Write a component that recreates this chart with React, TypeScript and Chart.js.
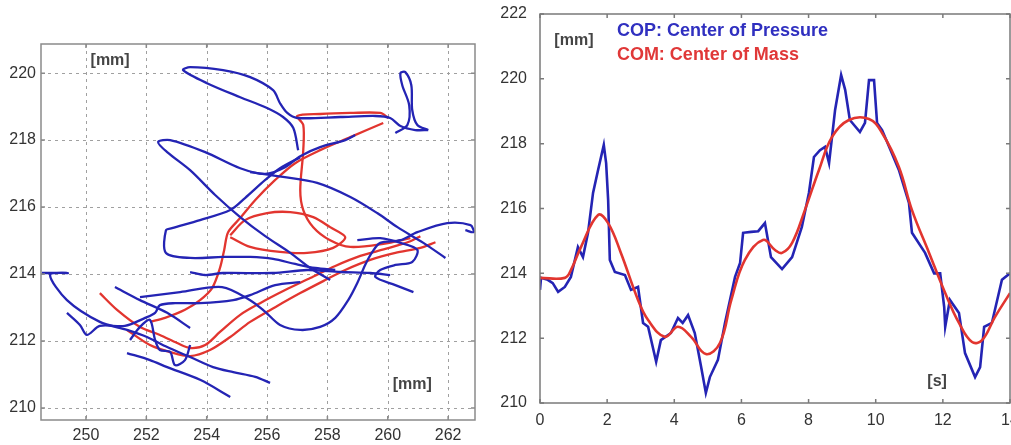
import React, { useEffect, useRef } from "react";
import { Chart, registerables } from "chart.js";

Chart.register(...registerables);

// ---------------- Left panel: COP / COM trajectory in the x-y plane [mm] ----------------
const xyXTicks = [250, 252, 254, 256, 258, 260, 262];
const xyYTicks = [210, 212, 214, 216, 218, 220];
const xyXMin = 248.51;
const xyXMax = 262.89;
const xyYMin = 209.64;
const xyYMax = 220.87;

type P = [number, number];

// COP strokes (blue)
const copTopLoop: P[] = [[257.03,217.7],[256.87,218.36],[256.53,218.69],[256.0,218.96],[255.11,219.28],[254.01,219.7],[253.22,220.09],[253.45,220.18],[254.54,220.09],[255.44,219.88],[256.2,219.49],[256.43,219.1],[256.67,218.81],[257.0,218.66],[258.43,218.69],[259.59,218.72],[260.08,218.66],[260.42,218.42],[260.91,218.3],[261.34,218.3]];
const copSmallLoop: P[] = [[260.25,218.21],[260.65,218.45],[260.71,219.04],[260.48,219.64],[260.42,220.0],[260.58,220.03],[260.78,219.64],[260.81,218.9],[260.98,218.45],[261.34,218.3]];
const copSecondLoop: P[] = [[258.09,213.82],[257.43,214.18],[256.77,214.63],[255.94,215.13],[255.11,215.7],[254.28,216.36],[253.45,217.1],[252.69,217.64],[252.39,217.94],[252.79,218.0],[253.95,217.64],[255.11,217.16],[255.94,216.99],[256.6,217.19],[257.1,217.52],[257.76,217.79],[258.59,218.0],[258.92,218.15]];
const copBracket: P[] = [[257.1,217.49],[256.43,217.16],[255.94,216.81],[255.27,216.27],[254.78,215.91],[253.78,215.61],[252.85,215.37],[252.65,215.31],[252.65,214.63],[253.45,214.48],[254.54,214.51],[255.44,214.51],[256.2,214.45],[256.93,214.3],[257.6,214.18],[258.26,214.12]];
const copDiagonal: P[] = [[255.44,217.04],[256.53,216.9],[257.66,216.72],[258.76,216.3],[259.65,215.82],[260.32,215.4],[261.18,214.93],[261.91,214.48]];
const copMidLine: P[] = [[253.45,214.06],[253.95,213.97],[254.54,214.03],[256.2,214.03],[257.33,214.12],[258.43,214.06],[259.42,214.03],[260.08,213.97]];
const copLowCurve: P[] = [[251.79,213.31],[253.12,213.46],[254.51,213.61],[255.44,213.22],[255.94,212.87],[256.43,212.48],[257.1,212.33],[257.76,212.42],[258.26,212.69],[258.69,213.22],[258.99,213.73],[259.25,214.27],[259.49,214.66],[259.75,214.93],[260.42,215.01],[260.98,215.25],[261.97,215.52],[262.74,215.46],[262.84,215.25],[262.57,215.31]];
const copRightLoop: P[] = [[258.99,215.01],[259.75,215.07],[260.42,214.93],[260.98,214.72],[260.81,214.36],[260.25,214.27],[259.75,214.12],[259.59,213.91],[260.25,213.67],[260.85,213.46]];
const copLeftLong: P[] = [[248.54,214.03],[249.4,214.03],[248.81,213.97],[249.37,213.22],[250.46,212.57],[251.36,212.33],[252.02,212.12],[252.69,211.82],[253.45,211.52],[254.21,211.22],[254.88,211.07],[255.61,210.93],[256.1,210.75]];
const copZigzag: P[] = [[249.37,212.84],[249.8,212.48],[250.03,212.18],[250.46,212.45],[251.29,212.45],[251.96,212.69],[252.29,212.84],[252.45,213.07],[252.95,213.13],[253.78,213.13],[254.88,213.22],[255.44,213.37],[256.27,213.67],[257.1,213.76]];
const copShort: P[] = [[250.96,213.61],[251.79,213.22],[252.69,212.84],[253.45,212.39]];
const copBottom: P[] = [[251.36,211.64],[252.12,211.43],[252.69,211.22],[253.78,210.84],[254.78,210.33]];
const copCluster: P[] = [[251.46,212.03],[251.79,212.42],[252.12,212.63],[252.29,212.03],[252.45,211.73],[252.79,211.67],[252.95,211.28],[253.28,211.43],[253.45,211.88]];

// COM strokes (red)
const comLowerA: P[] = [[250.46,213.43],[251.03,212.93],[251.79,212.42],[252.45,212.18],[253.02,211.94],[253.45,211.79],[253.95,211.88],[254.44,212.27],[255.11,212.78],[255.77,213.13],[256.6,213.52],[257.43,213.88],[258.26,214.24],[259.09,214.54],[259.92,214.75],[260.75,214.98],[261.08,215.13]];
const comLowerB: P[] = [[251.36,212.33],[252.12,211.88],[252.79,211.67],[253.45,211.55],[254.11,211.73],[254.78,212.12],[255.44,212.57],[256.27,213.01],[257.1,213.43],[257.93,213.82],[258.59,214.12],[259.42,214.42],[260.25,214.63],[261.08,214.78],[261.58,214.95]];
const comTop: P[] = [[260.02,218.66],[259.75,218.81],[258.76,218.81],[257.76,218.78],[257.0,218.72],[257.2,218.45],[257.2,217.7],[257.1,216.51],[257.2,215.91],[257.53,215.4],[258.09,215.01],[258.76,214.81],[259.85,214.9],[260.75,215.07]];
const comDescent: P[] = [[259.85,218.51],[258.76,218.09],[257.76,217.7],[256.93,217.31],[256.27,216.81],[255.61,216.21],[255.11,215.67],[254.71,215.25],[254.58,214.72],[254.44,214.18],[254.18,213.58],[253.78,213.22],[253.28,212.93],[252.62,212.69],[252.12,212.57]];
const comLoop: P[] = [[254.78,215.16],[255.27,215.61],[256.0,215.82],[256.77,215.85],[257.53,215.7],[258.09,215.4],[258.59,215.1],[258.19,214.78],[257.33,214.63],[256.43,214.66],[255.44,214.81],[254.78,215.1]];

const copStrokes: P[][] = [copTopLoop, copSmallLoop, copSecondLoop, copBracket, copDiagonal, copMidLine, copLowCurve, copRightLoop, copLeftLong, copZigzag, copShort, copBottom, copCluster];
const comStrokes: P[][] = [comLowerA, comLowerB, comTop, comDescent, comLoop];

// ---------------- Right panel: time series [s] vs [mm] ----------------
const timeTicks = [0, 2, 4, 6, 8, 10, 12, 14];
const posTicks = [210, 212, 214, 216, 218, 220, 222];

const copT = [0,0.03,0.23,0.38,0.54,0.74,0.92,1.13,1.28,1.43,1.58,1.73,1.9,1.97,2.03,2.08,2.23,2.53,2.71,2.92,3.07,3.22,3.46,3.6,3.9,4.11,4.25,4.41,4.61,4.8,4.94,5.06,5.3,5.51,5.81,5.96,6.05,6.29,6.5,6.7,6.88,7.21,7.51,7.8,8.01,8.16,8.34,8.49,8.61,8.79,8.97,9.09,9.23,9.53,9.68,9.8,9.95,10.04,10.19,10.69,10.99,11.08,11.47,11.74,11.92,12.04,12.07,12.21,12.48,12.66,12.96,13.11,13.23,13.46,13.76,14.0];
const copY = [213.49,213.86,213.8,213.7,213.43,213.58,213.89,214.81,214.5,215.25,216.48,217.19,217.96,217.4,216.26,214.41,214.04,213.95,213.49,213.58,212.47,212.35,211.27,211.94,212.16,212.62,212.47,212.71,212.16,211.11,210.31,210.8,211.33,212.47,213.89,214.32,215.25,215.28,215.3,215.55,214.5,214.13,214.5,215.43,216.48,217.59,217.8,217.9,217.4,219.04,220.12,219.66,218.73,218.36,218.64,219.96,219.96,218.64,218.42,217.19,216.17,215.25,214.63,214.0,214.0,212.96,212.35,213.18,212.78,211.54,210.8,211.11,212.35,212.47,213.8,214.0];

const comT = [0,0.74,0.92,1.22,1.73,2.03,2.41,2.92,3.22,3.72,4.11,4.5,4.94,5.36,5.7,6.1,6.64,7.0,7.21,7.51,7.89,8.31,8.7,9.2,9.8,10.19,10.69,11.08,11.59,12.07,12.48,12.87,13.17,13.55,14.0];
const comY = [213.86,213.86,214.1,214.81,215.8,215.55,214.63,213.18,212.56,212.04,212.35,212.04,211.51,211.85,213.18,214.41,215.03,214.72,214.63,214.94,215.95,217.19,218.21,218.73,218.76,218.33,217.28,215.95,214.63,213.39,212.47,211.88,211.94,212.65,213.39];

// ---------------- styling ----------------
const BLUE = "#2424b4";
const RED = "#e2352f";
const FONT = "'Liberation Sans', Arial, sans-serif";

const framePlugin = {
  id: "frame",
  beforeDatasetsDraw(chart: any, _a: any, o: any) {
    if (!o.grid) return;
    const { ctx, chartArea: a, scales } = chart;
    const x = scales.x, y = scales.y;
    ctx.save();
    ctx.strokeStyle = o.gridColor;
    ctx.lineWidth = 1;
    ctx.setLineDash([3, 4]);
    ctx.beginPath();
    x.ticks.forEach((t: any) => {
      const p = Math.round(x.getPixelForValue(t.value)) + 0.5;
      ctx.moveTo(p, a.top);
      ctx.lineTo(p, a.bottom);
    });
    y.ticks.forEach((t: any) => {
      const p = Math.round(y.getPixelForValue(t.value)) + 0.5;
      ctx.moveTo(a.left, p);
      ctx.lineTo(a.right, p);
    });
    ctx.stroke();
    ctx.restore();
  },
  afterDraw(chart: any, _a: any, o: any) {
    const { ctx, chartArea: a, scales } = chart;
    const x = scales.x, y = scales.y;
    ctx.save();
    ctx.strokeStyle = o.color;
    ctx.lineWidth = o.width;
    ctx.setLineDash([]);
    ctx.strokeRect(a.left, a.top, a.right - a.left, a.bottom - a.top);
    const L = o.tickLen;
    ctx.lineWidth = 1.5;
    ctx.beginPath();
    x.ticks.forEach((t: any) => {
      const p = x.getPixelForValue(t.value);
      ctx.moveTo(p, a.bottom); ctx.lineTo(p, a.bottom - L);
      ctx.moveTo(p, a.top); ctx.lineTo(p, a.top + L);
    });
    y.ticks.forEach((t: any) => {
      const p = y.getPixelForValue(t.value);
      ctx.moveTo(a.left, p); ctx.lineTo(a.left + L, p);
      ctx.moveTo(a.right, p); ctx.lineTo(a.right - L, p);
    });
    ctx.stroke();
    (o.texts || []).forEach((t: any) => {
      ctx.font = t.font;
      ctx.fillStyle = t.color;
      ctx.textAlign = t.align || "center";
      ctx.textBaseline = "middle";
      ctx.fillText(t.text, x.getPixelForValue(t.x), y.getPixelForValue(t.y));
    });
    ctx.restore();
  },
};

function fixedAxis(size: number, horizontal: boolean) {
  return (s: any) => {
    if (horizontal) s.height = size; else s.width = size;
    s.paddingLeft = 0; s.paddingRight = 0; s.paddingTop = 0; s.paddingBottom = 0;
  };
}

function setTicks(values: number[]) {
  return (s: any) => { s.ticks = values.map((v) => ({ value: v })); };
}

const tickFont = { family: FONT, size: 16 };
const TICK_COLOR = "#333";

function leftConfig(): any {
  const datasets: any[] = [];
  copStrokes.forEach((st, i) => datasets.push({
    label: "COP " + i,
    data: st.map(([px, py]) => ({ x: px, y: py })),
    showLine: true, borderColor: BLUE, borderWidth: 2.3, pointRadius: 0, tension: 0.3, fill: false,
  }));
  comStrokes.forEach((st, i) => datasets.push({
    label: "COM " + i,
    data: st.map(([px, py]) => ({ x: px, y: py })),
    showLine: true, borderColor: RED, borderWidth: 2.3, pointRadius: 0, tension: 0.3, fill: false,
  }));
  return {
    type: "scatter",
    data: { datasets },
    plugins: [framePlugin],
    options: {
      responsive: false,
      animation: false,
      layout: { padding: { top: 44, right: 25, left: 0, bottom: 0 } },
      plugins: {
        legend: { display: false },
        tooltip: { enabled: false },
        frame: {
          grid: true, gridColor: "#a0a0a0", color: "#8a8a8a", width: 1.5, tickLen: 4,
          texts: [
            { text: "[mm]", x: 250.8, y: 220.36, color: "#444", font: `bold 16px ${FONT}` },
            { text: "[mm]", x: 260.81, y: 210.69, color: "#444", font: `bold 16px ${FONT}` },
          ],
        },
      },
      scales: {
        x: {
          type: "linear", min: xyXMin, max: xyXMax,
          afterBuildTicks: setTicks(xyXTicks), afterFit: fixedAxis(25, true),
          grid: { display: false, drawTicks: false }, border: { display: false },
          ticks: { font: tickFont, color: TICK_COLOR, padding: 6, maxRotation: 0 },
        },
        y: {
          type: "linear", min: xyYMin, max: xyYMax,
          afterBuildTicks: setTicks(xyYTicks), afterFit: fixedAxis(41, false),
          grid: { display: false, drawTicks: false }, border: { display: false },
          ticks: { font: tickFont, color: TICK_COLOR, padding: 5 },
        },
      },
    },
  };
}

function rightConfig(): any {
  return {
    type: "scatter",
    data: {
      datasets: [
        {
          label: "COM: Center of Mass",
          data: comT.map((t, i) => ({ x: t, y: comY[i] })),
          showLine: true, borderColor: RED, borderWidth: 2.6, pointRadius: 0, tension: 0.4, fill: false,
        },
        {
          label: "COP: Center of Pressure",
          data: copT.map((t, i) => ({ x: t, y: copY[i] })),
          showLine: true, borderColor: BLUE, borderWidth: 2.6, pointRadius: 0, tension: 0, fill: false,
        },
      ],
    },
    plugins: [framePlugin],
    options: {
      responsive: false,
      animation: false,
      layout: { padding: { top: 14, right: 1, left: 0, bottom: 0 } },
      plugins: {
        legend: { display: false },
        tooltip: { enabled: false },
        frame: {
          grid: false, color: "#7a7a7a", width: 1.5, tickLen: 4,
          texts: [
            { text: "[mm]", x: 1.01, y: 221.17, color: "#444", font: `bold 16px ${FONT}` },
            { text: "COP: Center of Pressure", x: 2.29, y: 221.48, color: "#3030c0", font: `bold 18px ${FONT}`, align: "left" },
            { text: "COM: Center of Mass", x: 2.29, y: 220.74, color: "#e03838", font: `bold 18px ${FONT}`, align: "left" },
            { text: "[s]", x: 11.83, y: 210.65, color: "#444", font: `bold 16px ${FONT}` },
          ],
        },
      },
      scales: {
        x: {
          type: "linear", min: 0, max: 14,
          afterBuildTicks: setTicks(timeTicks), afterFit: fixedAxis(42, true),
          grid: { display: false, drawTicks: false }, border: { display: false },
          ticks: { font: tickFont, color: TICK_COLOR, padding: 8, maxRotation: 0 },
        },
        y: {
          type: "linear", min: 210, max: 222,
          afterBuildTicks: setTicks(posTicks), afterFit: fixedAxis(40, false),
          grid: { display: false, drawTicks: false }, border: { display: false },
          ticks: { font: tickFont, color: TICK_COLOR, padding: 13 },
        },
      },
    },
  };
}

function ChartCanvas({ make, left, width, height }: { make: () => any; left: number; width: number; height: number }) {
  const ref = useRef<HTMLCanvasElement>(null);
  useEffect(() => {
    const chart = new Chart(ref.current as HTMLCanvasElement, make());
    return () => chart.destroy();
  }, []);
  return (
    <canvas
      ref={ref}
      width={width}
      height={height}
      style={{ position: "absolute", left, top: 0, width, height, display: "block" }}
    />
  );
}

export default function App() {
  return (
    <div style={{ position: "absolute", left: 0, top: 0, width: 1011, height: 445, background: "#fff", overflow: "hidden" }}>
      <ChartCanvas make={leftConfig} left={0} width={500} height={445} />
      <ChartCanvas make={rightConfig} left={500} width={511} height={445} />
    </div>
  );
}
